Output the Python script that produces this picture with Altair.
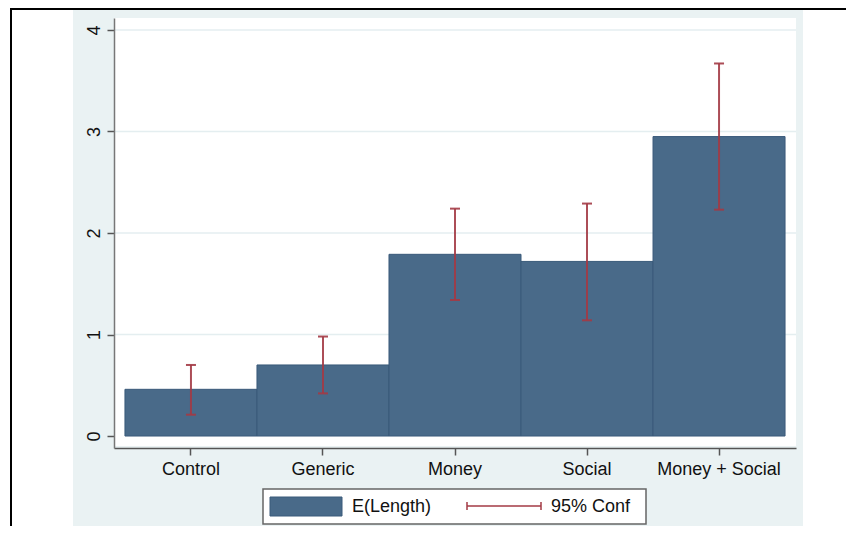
import altair as alt
import pandas as pd

groups = ["Control", "Generic", "Money", "Social", "Money + Social"]
means = [0.46, 0.70, 1.79, 1.72, 2.95]
ci_lo = [0.21, 0.42, 1.34, 1.14, 2.23]
ci_hi = [0.70, 0.98, 2.24, 2.29, 3.67]
y_ticks = [0, 1, 2, 3, 4]
legend_labels = ["E(Length)", "95% Conf"]

W, H = 682, 430
BAR = "#496a89"
BAR_EDGE = "#3a5a7a"
CI = "#a33a45"
BG = "#eaf2f3"
FONT = "Liberation Sans"

df = pd.DataFrame({"group": groups, "mean": means, "lo": ci_lo, "hi": ci_hi})
grid_df = pd.DataFrame({"v": y_ticks[1:]})
one = pd.DataFrame({"k": [0]})
leg = pd.DataFrame({"label": legend_labels})

xs = alt.Scale(domain=groups, paddingInner=0, paddingOuter=0.083)
ys = alt.Scale(domain=[-0.118, 4.118], nice=False, zero=False)

x_axis = alt.Axis(title=None, labelFont=FONT, labelFontSize=18, labelColor="#111",
                  labelAngle=0, tickSize=7, tickColor="#555", domainColor="#555",
                  domainWidth=1.5, tickWidth=1.5, labelPadding=5, grid=False, zindex=1)
y_axis = alt.Axis(title=None, values=y_ticks, format="d", labelFont=FONT, labelFontSize=18,
                  labelColor="#111",
                  labelAngle=270, labelAlign="center", labelBaseline="bottom",
                  tickSize=7, tickColor="#555", domainColor="#777", domainWidth=1.5,
                  tickWidth=1.5, labelPadding=4, grid=False, zindex=1)

OX, OY = 114, 18

# decorations
bg = alt.Chart(one).mark_rect(fill=BG).encode(
    x=alt.value(73 - OX), x2=alt.value(803 - OX),
    y=alt.value(10 - OY), y2=alt.value(534 - OY))
plot_bg = alt.Chart(one).mark_rect(fill="white").encode(
    x=alt.value(0), x2=alt.value(W), y=alt.value(0), y2=alt.value(H - 2))
frame_top = alt.Chart(one).mark_rule(color="black", strokeWidth=2).encode(
    x=alt.value(11 - OX), x2=alt.value(854 - OX), y=alt.value(9 - OY))
frame_left = alt.Chart(one).mark_rule(color="black", strokeWidth=2).encode(
    x=alt.value(11 - OX), y=alt.value(8 - OY), y2=alt.value(534 - OY))

grid = alt.Chart(grid_df).mark_rule(color="#e4eef0", strokeWidth=1.5).encode(
    y=alt.Y("v:Q", scale=ys, axis=y_axis))

bars = alt.Chart(df).mark_bar(fill=BAR, stroke=BAR_EDGE, strokeWidth=1).encode(
    x=alt.X("group:N", scale=xs, axis=x_axis, sort=groups),
    y=alt.Y("mean:Q", scale=ys, axis=y_axis),
    y2=alt.datum(0))

err = alt.Chart(df).mark_rule(color=CI, strokeWidth=2, opacity=0.9).encode(
    x=alt.X("group:N", scale=xs, sort=groups),
    y=alt.Y("lo:Q", scale=ys),
    y2="hi:Q")
cap_lo = alt.Chart(df).mark_tick(color=CI, size=10, thickness=2, opacity=0.9).encode(
    x=alt.X("group:N", scale=xs, sort=groups), y=alt.Y("lo:Q", scale=ys))
cap_hi = alt.Chart(df).mark_tick(color=CI, size=10, thickness=2, opacity=0.9).encode(
    x=alt.X("group:N", scale=xs, sort=groups), y=alt.Y("hi:Q", scale=ys))

# legend (manual)
leg_box = alt.Chart(one).mark_rect(fill="white", stroke="#666", strokeWidth=1.5).encode(
    x=alt.value(263 - OX), x2=alt.value(646 - OX), y=alt.value(489 - OY), y2=alt.value(524 - OY))
leg_sw = alt.Chart(one).mark_rect(fill=BAR, stroke=BAR_EDGE, strokeWidth=1).encode(
    x=alt.value(270 - OX), x2=alt.value(342 - OX), y=alt.value(497 - OY), y2=alt.value(516 - OY))
leg_line = alt.Chart(one).mark_rule(color=CI, strokeWidth=1.5).encode(
    x=alt.value(467 - OX), x2=alt.value(541 - OX), y=alt.value(506 - OY))
leg_c1 = alt.Chart(one).mark_rule(color=CI, strokeWidth=1.5).encode(
    x=alt.value(467 - OX), y=alt.value(502 - OY), y2=alt.value(510 - OY))
leg_c2 = alt.Chart(one).mark_rule(color=CI, strokeWidth=1.5).encode(
    x=alt.value(541 - OX), y=alt.value(502 - OY), y2=alt.value(510 - OY))
leg_t1 = alt.Chart(leg.iloc[[0]]).mark_text(font=FONT, fontSize=18, align="left",
                                           baseline="middle", color="#111").encode(
    x=alt.value(352 - OX), y=alt.value(507 - OY), text="label:N")
leg_t2 = alt.Chart(leg.iloc[[1]]).mark_text(font=FONT, fontSize=18, align="left",
                                           baseline="middle", color="#111").encode(
    x=alt.value(551 - OX), y=alt.value(507 - OY), text="label:N")

chart = alt.layer(
    bg, plot_bg, frame_top, frame_left, grid, bars, err, cap_lo, cap_hi,
    leg_box, leg_sw, leg_line, leg_c1, leg_c2, leg_t1, leg_t2
).properties(
    width=W, height=H,
    autosize=alt.AutoSizeParams(type="none"),
    padding={"left": 106, "top": 10, "right": 50, "bottom": 78},
).configure(background="white").configure_view(stroke=None)

chart.save("out.html", embed_options={"renderer": "svg", "actions": False})
